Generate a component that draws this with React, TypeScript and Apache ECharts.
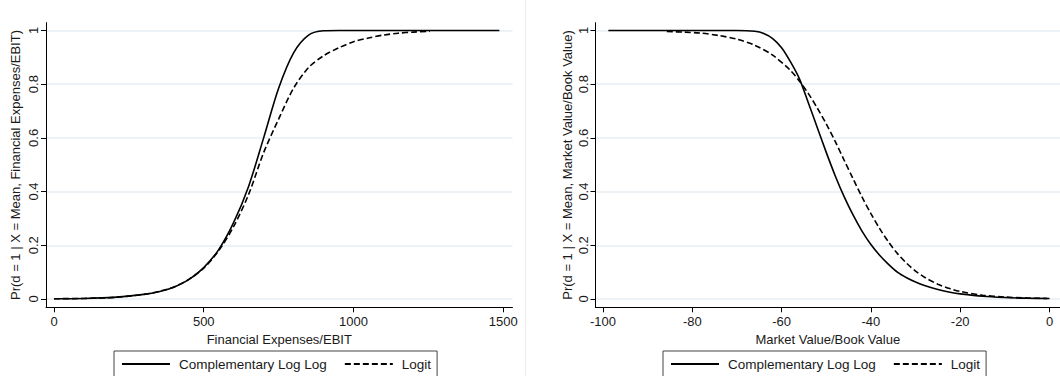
import React, { useEffect, useRef } from "react";
import * as echarts from "echarts";

// ---------- Data ----------
const P_TICKS = [0, 0.2, 0.4, 0.6, 0.8, 1];
const FE_TICKS = [0, 500, 1000, 1500];
const MB_TICKS = [-100, -80, -60, -40, -20, 0];

const SERIES_NAMES = ["Complementary Log Log", "Logit"];

// Left panel: Financial Expenses/EBIT
const FE_X_CLL = [0, 100, 200, 300, 350, 400, 450, 500, 550, 600, 650, 700, 750, 800, 850, 900, 950, 1000, 1100, 1200, 1300, 1400, 1487];
const FE_CLL = [0.001, 0.002, 0.006, 0.017, 0.027, 0.044, 0.072, 0.117, 0.184, 0.285, 0.42, 0.6, 0.785, 0.917, 0.983, 0.999, 1, 1, 1, 1, 1, 1, 1];
const FE_X_LOGIT = [0, 100, 200, 300, 350, 400, 450, 500, 550, 600, 650, 700, 750, 800, 850, 900, 950, 1000, 1050, 1100, 1150, 1200, 1255];
const FE_LOGIT = [0.001, 0.002, 0.006, 0.017, 0.028, 0.045, 0.073, 0.115, 0.18, 0.27, 0.39, 0.545, 0.67, 0.785, 0.862, 0.906, 0.935, 0.958, 0.972, 0.983, 0.99, 0.994, 0.997];

// Right panel: Market Value/Book Value
const MB_X_CLL = [-98.8, -90, -80, -70, -66, -64, -62, -60, -58, -56, -54, -52, -50, -48, -46, -44, -42, -40, -38, -36, -34, -32, -30, -28, -25, -22, -20, -15, -10, -5, 0];
const MB_CLL = [1, 1, 1, 1, 0.997, 0.989, 0.97, 0.936, 0.883, 0.82, 0.73, 0.638, 0.546, 0.459, 0.381, 0.313, 0.253, 0.203, 0.162, 0.128, 0.099, 0.079, 0.063, 0.05, 0.035, 0.024, 0.019, 0.01, 0.0055, 0.003, 0.0016];
const MB_X_LOGIT = [-85.7, -82, -78, -74, -70, -66, -62, -58, -56, -54, -52, -50, -48, -46, -44, -42, -40, -38, -36, -34, -32, -30, -28, -25, -22, -20, -15, -10, -5, -0.5];
const MB_LOGIT = [0.996, 0.994, 0.99, 0.981, 0.968, 0.945, 0.908, 0.851, 0.811, 0.765, 0.711, 0.652, 0.587, 0.517, 0.448, 0.38, 0.318, 0.261, 0.211, 0.168, 0.133, 0.104, 0.081, 0.055, 0.037, 0.028, 0.014, 0.0072, 0.0036, 0.002];

const pairs = (xs: number[], ys: number[]) => xs.map((x, i) => [x, ys[i]]);

const FONT = "'Liberation Sans', Arial, sans-serif";
const TXT = "#1a1a1a";

function makeYAxis(gridIndex: number, name: string, nameGap: number) {
  return {
    type: "value",
    gridIndex,
    min: -0.031,
    max: 1.029,
    name,
    nameLocation: "middle",
    nameRotate: 90,
    nameGap,
    nameTextStyle: { fontFamily: FONT, fontSize: 13, color: TXT },
    axisLine: { show: true, onZero: false, lineStyle: { color: "#000", width: 1 } },
    axisTick: { show: true, customValues: P_TICKS, length: 5, lineStyle: { color: "#000", width: 1 } },
    axisLabel: { customValues: P_TICKS, rotate: 90, margin: 6, fontFamily: FONT, fontSize: 13, color: TXT, formatter: (v: number) => String(v) },
    splitLine: { show: true, lineStyle: { color: "#e6eef2", width: 1.5 } },
  };
}

function makeXAxis(gridIndex: number, name: string, min: number, max: number, ticks: number[]) {
  return {
    type: "value",
    gridIndex,
    min,
    max,
    name,
    nameLocation: "middle",
    nameGap: 25,
    nameTextStyle: { fontFamily: FONT, fontSize: 13, color: TXT },
    axisLine: { show: true, onZero: false, lineStyle: { color: "#000", width: 1 } },
    axisTick: { show: true, customValues: ticks, length: 5, lineStyle: { color: "#000", width: 1 } },
    axisLabel: { customValues: ticks, margin: 8, fontFamily: FONT, fontSize: 13, color: TXT, formatter: (v: number) => String(v) },
    splitLine: { show: false },
  };
}

function makeSeries(name: string, xi: number, data: number[][], dashed: boolean) {
  return {
    type: "line",
    name,
    xAxisIndex: xi,
    yAxisIndex: xi,
    data,
    symbol: "none",
    showSymbol: false,
    smooth: 0.3,
    lineStyle: { color: "#000", width: 1.6, type: dashed ? [6, 3] : "solid" },
    itemStyle: { color: "#000" },
  };
}

function makeLegend(left: number) {
  return {
    data: SERIES_NAMES,
    left,
    top: 351,
    orient: "horizontal",
    itemWidth: 48,
    itemHeight: 12,
    itemGap: 17,
    padding: [6, 6, 14, 7],
    borderColor: "#444",
    borderWidth: 1,
    backgroundColor: "#fff",
    selectedMode: false,
    itemStyle: { opacity: 0, borderWidth: 0 },
    textStyle: { fontFamily: FONT, fontSize: 13.5, color: TXT, padding: [0, 0, 0, 4] },
  };
}

export default function App() {
  const ref = useRef<HTMLDivElement>(null);
  useEffect(() => {
    if (!ref.current) return;
    const chart = echarts.init(ref.current, undefined, { renderer: "svg" });
    chart.setOption({
      animation: false,
      backgroundColor: "#fff",
      textStyle: { fontFamily: FONT },
      grid: [
        { left: 46, top: 22.7, width: 466.5, height: 284.6 },
        { left: 595.5, top: 22.7, width: 464.5, height: 284.6 },
      ],
      xAxis: [
        makeXAxis(0, "Financial Expenses/EBIT", -26.7, 1530.9, FE_TICKS),
        makeXAxis(1, "Market Value/Book Value", -101.68, 2.35, MB_TICKS),
      ],
      yAxis: [
        makeYAxis(0, "Pr(d = 1 | X = Mean, Financial Expenses/EBIT)", 24),
        makeYAxis(1, "Pr(d = 1 | X = Mean, Market Value/Book Value)", 22),
      ],
      legend: [makeLegend(114), makeLegend(663)],
      graphic: [
        {
          type: "line",
          shape: { x1: 525.5, y1: 0, x2: 525.5, y2: 376 },
          style: { stroke: "#ececec", lineWidth: 1 },
          silent: true,
        },
      ],
      series: [
        makeSeries(SERIES_NAMES[0], 0, pairs(FE_X_CLL, FE_CLL), false),
        makeSeries(SERIES_NAMES[1], 0, pairs(FE_X_LOGIT, FE_LOGIT), true),
        makeSeries(SERIES_NAMES[0], 1, pairs(MB_X_CLL, MB_CLL), false),
        makeSeries(SERIES_NAMES[1], 1, pairs(MB_X_LOGIT, MB_LOGIT), true),
      ],
    });
    return () => chart.dispose();
  }, []);
  return (
    <div
      ref={ref}
      style={{ position: "fixed", left: 0, top: 0, width: 1060, height: 376, background: "#fff" }}
    />
  );
}
